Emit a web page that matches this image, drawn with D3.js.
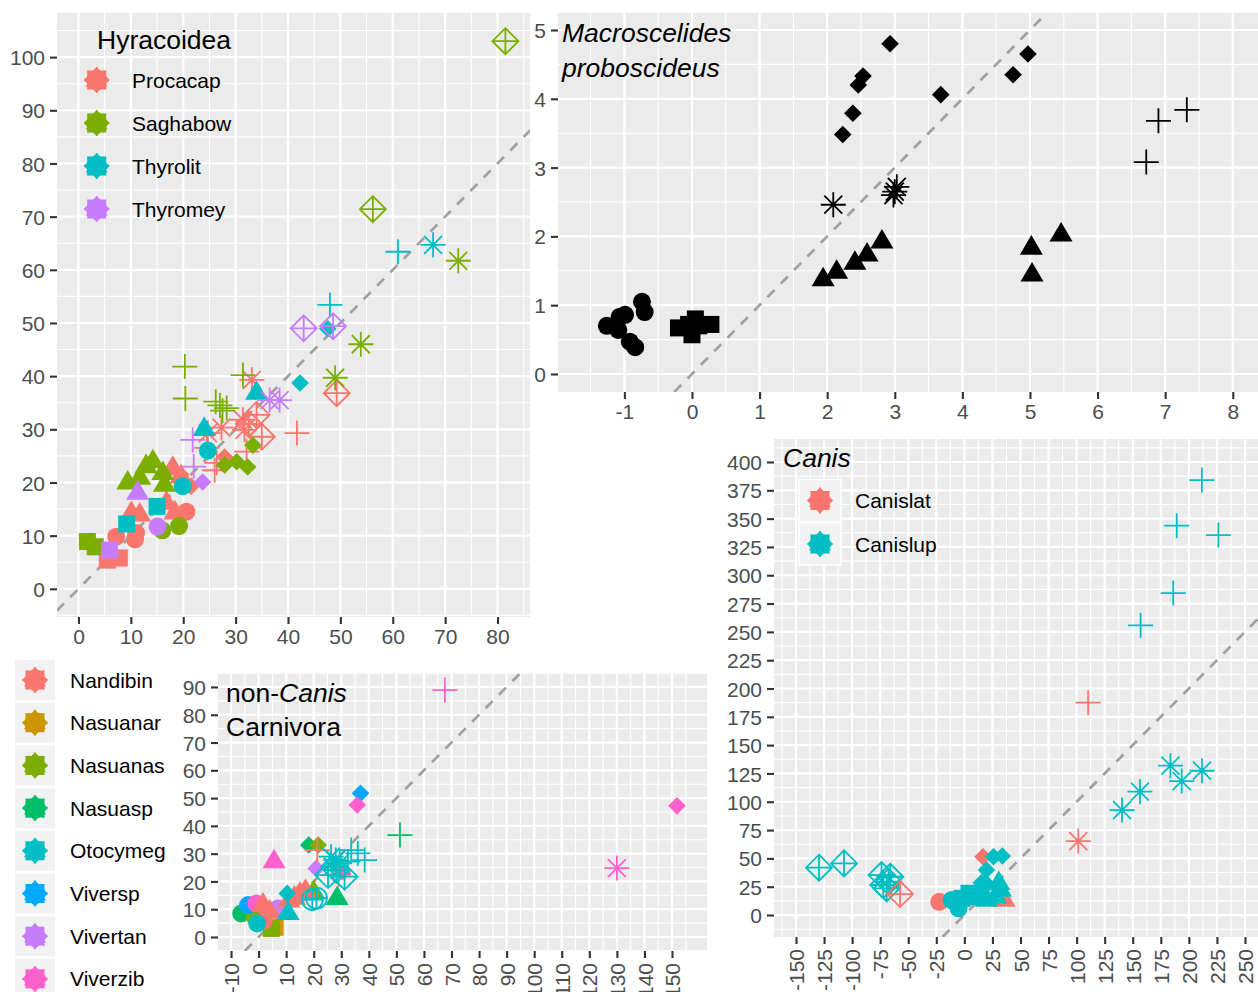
<!DOCTYPE html>
<html><head><meta charset="utf-8">
<script src="https://cdn.jsdelivr.net/npm/d3@7"></script>
<style>
body{margin:0;background:#fff}
svg{display:block;font-family:"Liberation Sans",Arial,Helvetica,sans-serif}
</style>
</head><body>
<svg id="chart" width="1258" height="992"></svg>
<script>
// ---------------- DATA ----------------
// Hyracoidea panel
const hyraxSpecies = ["Procacap","Saghabow","Thyrolit","Thyromey"];
const hyraxColors  = ["#F8766D","#7CAE00","#00BFC4","#C77CFF"];
const hyraxXTicks = [0,10,20,30,40,50,60,70,80];
const hyraxYTicks = [0,10,20,30,40,50,60,70,80,90,100];
// [species, shape, x, y]
const hyraxPoints = [
  ["Procacap","square",5.5,5.4],["Procacap","square",7.8,5.8],
  ["Procacap","circle",7.2,9.8],["Procacap","circle",10.8,9.3],["Procacap","circle",11,10.5],["Procacap","circle",20.6,14.5],
  ["Procacap","triangle",10.1,14.2],["Procacap","triangle",11.7,13.9],["Procacap","triangle",16.8,16.1],["Procacap","triangle",18.4,14.3],["Procacap","triangle",18,22.7],["Procacap","triangle",19.6,21.1],
  ["Procacap","diamond",21.5,19.3],["Procacap","diamond",19.5,21.5],["Procacap","diamond",27.9,24.8],
  ["Procacap","plus",41.7,29.3],["Procacap","plus",26.4,23.7],["Procacap","plus",32.1,25.8],["Procacap","plus",26,22.3],["Procacap","plus",24.5,26.5],
  ["Procacap","asterisk",33.1,39.3],["Procacap","asterisk",31.4,31.8],["Procacap","asterisk",27.3,30.3],["Procacap","asterisk",24.7,29.3],["Procacap","asterisk",31.7,29.9],
  ["Procacap","diamondplus",34,32.7],["Procacap","diamondplus",35,28.6],["Procacap","diamondplus",49.3,36.8],["Procacap","diamondplus",32.5,31],
  ["Saghabow","square",1.7,8.9],["Saghabow","square",3.2,7.9],
  ["Saghabow","circle",16,11],["Saghabow","circle",19.2,11.8],
  ["Saghabow","triangle",9.4,19.9],["Saghabow","triangle",11.7,20.8],["Saghabow","triangle",14.2,23.9],["Saghabow","triangle",12.9,23],["Saghabow","triangle",16.1,21.7],["Saghabow","triangle",16.4,19.5],
  ["Saghabow","diamond",27.9,23.3],["Saghabow","diamond",30.2,23.9],["Saghabow","diamond",32.3,22.9],["Saghabow","diamond",33.3,27],
  ["Saghabow","plus",20.3,41.8],["Saghabow","plus",20.4,35.8],["Saghabow","plus",26.2,35.2],["Saghabow","plus",27,34.5],["Saghabow","plus",27.5,33.5],["Saghabow","plus",28.3,34],["Saghabow","plus",31.4,40.2],
  ["Saghabow","asterisk",72.5,61.7],["Saghabow","asterisk",53.9,46],["Saghabow","asterisk",49,39.7],
  ["Saghabow","diamondplus",81.5,103],["Saghabow","diamondplus",56.2,71.4],
  ["Thyrolit","square",15,15.5],["Thyrolit","square",9.2,12.2],
  ["Thyrolit","circle",24.7,26],["Thyrolit","circle",19.9,19.3],
  ["Thyrolit","triangle",24,30],["Thyrolit","triangle",34,36.8],
  ["Thyrolit","diamond",42.3,38.7],["Thyrolit","diamond",47.6,48.9],
  ["Thyrolit","plus",61,63.4],["Thyrolit","plus",48,53.4],
  ["Thyrolit","asterisk",67.7,64.7],
  ["Thyromey","square",5.9,7.3],
  ["Thyromey","circle",15.1,11.7],
  ["Thyromey","triangle",11.3,18],
  ["Thyromey","diamond",23.7,20.1],
  ["Thyromey","plus",21.8,28],["Thyromey","plus",22,23],
  ["Thyromey","asterisk",36.5,35.5],["Thyromey","asterisk",38.4,35.5],
  ["Thyromey","diamondplus",43,49],["Thyromey","diamondplus",48.6,49.4]
];

// Macroscelides proboscideus panel
const macroXTicks = [-1,0,1,2,3,4,5,6,7,8];
const macroYTicks = [0,1,2,3,4,5];
const macroPoints = [
  ["circle",-1.26,0.70],["circle",-1.09,0.64],["circle",-1.07,0.83],["circle",-0.99,0.86],["circle",-0.92,0.47],["circle",-0.84,0.39],["circle",-0.74,1.05],["circle",-0.70,0.90],
  ["square",-0.20,0.67],["square",-0.05,0.72],["square",0.05,0.80],["square",0.00,0.57],["square",0.28,0.72],["square",0.10,0.70],
  ["triangle",1.94,1.37],["triangle",2.14,1.48],["triangle",2.41,1.61],["triangle",2.59,1.73],["triangle",2.81,1.92],["triangle",5.02,1.83],["triangle",5.03,1.44],["triangle",5.46,2.02],
  ["diamond",2.23,3.48],["diamond",2.38,3.79],["diamond",2.46,4.20],["diamond",2.53,4.33],["diamond",2.93,4.80],["diamond",3.68,4.06],["diamond",4.75,4.35],["diamond",4.97,4.65],
  ["asterisk",2.09,2.46],["asterisk",3.00,2.65],["asterisk",3.03,2.72],["asterisk",2.98,2.60],
  ["plus",6.72,3.08],["plus",6.90,3.68],["plus",7.32,3.84]
];

// non-Canis Carnivora panel
const carnSpecies = ["Nandibin","Nasuanar","Nasuanas","Nasuasp","Otocymeg","Viversp","Vivertan","Viverzib"];
const carnColors  = ["#F8766D","#CD9600","#7CAE00","#00BE67","#00BFC4","#00A9FF","#C77CFF","#FF61CC"];
const carnXTicks = [-10,0,10,20,30,40,50,60,70,80,90,100,110,120,130,140,150];
const carnYTicks = [0,10,20,30,40,50,60,70,80,90];
const carnPoints = [
  ["Nasuasp","circle",-6.3,8.5],["Nasuasp","diamond",18.2,33.1],["Nasuasp","triangle",28.5,13.9],["Nasuasp","plus",51.3,36.7],
  ["Nasuanar","square",6,3.5],["Nasuanar","circle",1,7],
  ["Nasuanas","square",4.6,3.1],["Nasuanas","diamond",21.6,33.1],["Nasuanas","triangle",20,16],["Nasuanas","circle",-1.5,7.5],
  ["Viversp","circle",-3.8,11.5],["Viversp","diamond",37,51.7],
  ["Viverzib","circle",-0.8,12.1],["Viverzib","triangle",5.6,27.1],["Viverzib","diamond",35.8,47.5],["Viverzib","diamond",151.8,47.2],["Viverzib","plus",67.6,88.9],["Viverzib","asterisk",130,24.8],["Viverzib","diamond",30.5,23.5],
  ["Vivertan","circle",7,10.3],["Vivertan","diamond",20.9,24.7],
  ["Nandibin","circle",2,6],["Nandibin","triangle",1.6,11.5],["Nandibin","triangle",4,9],["Nandibin","triangle",11,13],["Nandibin","triangle",13,14],["Nandibin","triangle",15,15.5],["Nandibin","triangle",17,16.5],["Nandibin","plus",21.3,31.3],["Nandibin","plus",29,22.5],
  ["Otocymeg","circle",-0.5,4.9],["Otocymeg","triangle",10.7,8.5],["Otocymeg","diamond",10.4,15.7],
  ["Otocymeg","circleplus",19.5,13.5],["Otocymeg","circleplus",21,14],
  ["Otocymeg","asterisk",26.3,28.9],["Otocymeg","asterisk",28,27.7],["Otocymeg","asterisk",29.4,26.5],["Otocymeg","asterisk",27,25.3],
  ["Otocymeg","plus",33.6,31.3],["Otocymeg","plus",36,30.1],["Otocymeg","plus",38.5,27.7],["Otocymeg","plus",32.4,27.1],
  ["Otocymeg","diamondplus",25.2,22.3],["Otocymeg","diamondplus",31.2,21.7],["Otocymeg","diamondplus",28.2,24.1]
];

// Canis panel
const canisSpecies = ["Canislat","Canislup"];
const canisColors  = ["#F8766D","#00BFC4"];
const canisXTicks = [-150,-125,-100,-75,-50,-25,0,25,50,75,100,125,150,175,200,225,250];
const canisYTicks = [0,25,50,75,100,125,150,175,200,225,250,275,300,325,350,375,400];
const canisPoints = [
  ["Canislup","plus",211.6,384],["Canislup","plus",189.2,343.8],["Canislup","plus",226.3,335.5],["Canislup","plus",186.1,284.3],["Canislup","plus",157,255.8],
  ["Canislup","asterisk",140.5,92.7],["Canislup","asterisk",156.4,108.9],["Canislup","asterisk",183.6,131.9],["Canislup","asterisk",193.6,118.3],["Canislup","asterisk",211.7,127.4],
  ["Canislup","diamondplus",-129.5,41.8],["Canislup","diamondplus",-107.2,45.6],["Canislup","diamondplus",-73.8,35.3],["Canislup","diamondplus",-67.6,29.4],["Canislup","diamondplus",-69.2,23.5],["Canislup","diamondplus",-72.3,26.5],["Canislup","diamondplus",-66,33.8],
  ["Canislat","diamond",16.6,51.5],
  ["Canislup","diamond",19.7,39.7],["Canislup","diamond",19.1,28.5],["Canislup","diamond",15.1,28.5],["Canislup","diamond",26,51.5],["Canislup","diamond",33.8,52.1],
  ["Canislat","triangle",35.4,13.2],
  ["Canislup","triangle",30.7,28],["Canislup","triangle",32.2,22],["Canislup","triangle",19.7,13.2],["Canislup","triangle",27.6,16.2],
  ["Canislup","square",4.1,19.2],["Canislup","square",10.4,16.2],["Canislup","square",-2,14.7],
  ["Canislat","circle",-22.4,11.7],
  ["Canislup","circle",-11.4,13.2],["Canislup","circle",-5.2,5.9],["Canislup","circle",-8.3,11.7],
  ["Canislat","plus",110.3,187.5],["Canislat","asterisk",101.5,65.3],["Canislat","diamondplus",-57.3,18.5]
];

// ---------------- DRAWING ----------------
const svg = d3.select("#chart");
const TICK_COL = "#333333", LAB_COL = "#4D4D4D";

function drawShape(g, shape, color) {
  const sw = 1.8;
  switch (shape) {
    case "circle": g.append("circle").attr("r", 9).attr("fill", color); break;
    case "square": g.append("rect").attr("x",-8.5).attr("y",-8.5).attr("width",17).attr("height",17).attr("fill", color); break;
    case "triangle": g.append("path").attr("d","M0,-13L11.5,6.6L-11.5,6.6Z").attr("fill", color); break;
    case "diamond": g.append("path").attr("d","M0,-8.8L8.8,0L0,8.8L-8.8,0Z").attr("fill", color); break;
    case "plus": g.append("path").attr("d","M-12.5,0H12.5M0,-12.5V12.5").attr("stroke", color).attr("stroke-width", sw).attr("fill","none"); break;
    case "asterisk": g.append("path").attr("d","M-12.5,0H12.5M0,-12.5V12.5M-9,-9L9,9M-9,9L9,-9").attr("stroke", color).attr("stroke-width", sw).attr("fill","none"); break;
    case "diamondplus": g.append("path").attr("d","M0,-13L13,0L0,13L-13,0ZM-13,0H13M0,-13V13").attr("stroke", color).attr("stroke-width", sw).attr("fill","none"); break;
    case "circleplus":
      g.append("circle").attr("r",10.5).attr("stroke", color).attr("stroke-width", sw).attr("fill","none");
      g.append("path").attr("d","M-10.5,0H10.5M0,-10.5V10.5").attr("stroke", color).attr("stroke-width", sw).attr("fill","none"); break;
  }
}

// legend key: all plotting symbols overlaid (ggplot style), giving a star-like glyph
function drawKeyGlyph(g, color) {
  g.append("path").attr("d","M0,-13L13,0L0,13L-13,0Z").attr("fill", color);
  g.append("rect").attr("x",-9.5).attr("y",-9.5).attr("width",19).attr("height",19).attr("fill", color);
  g.append("circle").attr("r",10).attr("fill", color);
  g.append("path").attr("d","M0,-12L11,6.5L-11,6.5Z").attr("fill", color);
  g.append("path").attr("d","M-12.5,0H12.5M0,-13V13M-9,-9L9,9M-9,9L9,-9").attr("stroke", color).attr("stroke-width", 1.6);
}

function minorBreaks(ticks, domain) {
  const step = ticks[1] - ticks[0];
  const out = [];
  const lo = Math.min(domain[0], domain[1]), hi = Math.max(domain[0], domain[1]);
  for (let v = ticks[0] - step / 2; v <= ticks[ticks.length - 1] + step / 2 + 1e-9; v += step) {
    if (v >= lo && v <= hi) out.push(v);
  }
  return out;
}

let clipId = 0;
function drawPanel(cfg) {
  const x = d3.scaleLinear().domain(cfg.xDomain).range([cfg.left, cfg.right]);
  const y = d3.scaleLinear().domain(cfg.yDomain).range([cfg.bottom, cfg.top]);
  const g = svg.append("g");
  g.append("rect").attr("x", cfg.left).attr("y", cfg.top)
    .attr("width", cfg.right - cfg.left).attr("height", cfg.bottom - cfg.top).attr("fill", "#EBEBEB");
  const grid = g.append("g");
  minorBreaks(cfg.xTicks, cfg.xDomain).forEach(v => grid.append("line")
    .attr("x1", x(v)).attr("x2", x(v)).attr("y1", cfg.top).attr("y2", cfg.bottom)
    .attr("stroke", "#fff").attr("stroke-width", 1.1));
  minorBreaks(cfg.yTicks, cfg.yDomain).forEach(v => grid.append("line")
    .attr("y1", y(v)).attr("y2", y(v)).attr("x1", cfg.left).attr("x2", cfg.right)
    .attr("stroke", "#fff").attr("stroke-width", 1.1));
  cfg.xTicks.forEach(v => grid.append("line")
    .attr("x1", x(v)).attr("x2", x(v)).attr("y1", cfg.top).attr("y2", cfg.bottom)
    .attr("stroke", "#fff").attr("stroke-width", 2.2));
  cfg.yTicks.forEach(v => grid.append("line")
    .attr("y1", y(v)).attr("y2", y(v)).attr("x1", cfg.left).attr("x2", cfg.right)
    .attr("stroke", "#fff").attr("stroke-width", 2.2));

  const id = "clip" + (clipId++);
  svg.append("defs").append("clipPath").attr("id", id).append("rect")
    .attr("x", cfg.left).attr("y", cfg.top).attr("width", cfg.right - cfg.left).attr("height", cfg.bottom - cfg.top);
  const plot = g.append("g").attr("clip-path", `url(#${id})`);

  // identity line y = x
  const lo = Math.max(cfg.xDomain[0], cfg.yDomain[0]), hi = Math.min(cfg.xDomain[1], cfg.yDomain[1]);
  plot.append("line").attr("x1", x(lo)).attr("y1", y(lo)).attr("x2", x(hi)).attr("y2", y(hi))
    .attr("stroke", "#A0A0A0").attr("stroke-width", 2.7).attr("stroke-dasharray", "10,9");

  cfg.points.forEach(p => {
    const pg = plot.append("g").attr("transform", `translate(${x(p.x)},${y(p.y)})`);
    drawShape(pg, p.shape, p.color);
  });

  // axes
  const fmt = d => String(d);
  const ax = g.append("g").attr("transform", `translate(0,${cfg.bottom})`)
    .call(d3.axisBottom(x).tickValues(cfg.xTicks).tickSize(7).tickPadding(5).tickFormat(fmt));
  const ay = g.append("g").attr("transform", `translate(${cfg.left},0)`)
    .call(d3.axisLeft(y).tickValues(cfg.yTicks).tickSize(7).tickPadding(5).tickFormat(fmt));
  [ax, ay].forEach(a => {
    a.select(".domain").remove();
    a.selectAll(".tick line").attr("stroke", TICK_COL).attr("stroke-width", 2.1);
    a.selectAll(".tick text").attr("fill", LAB_COL).style("font-size", "21px")
      .style("font-family", '"Liberation Sans",Arial,sans-serif');
  });
  ay.selectAll(".tick text").attr("dy", "0.36em");
  if (cfg.rotateX) {
    ax.selectAll(".tick text").attr("transform", "rotate(-90)")
      .attr("x", -12).attr("y", 0).attr("dy", "0.36em").attr("text-anchor", "end");
  } else {
    ax.selectAll(".tick text").attr("dy", "0.72em").attr("y", 12);
  }
  return {x, y};
}

function toPts(arr, speciesList, colors) {
  return arr.map(d => ({shape: d[1], x: d[2], y: d[3], color: colors[speciesList.indexOf(d[0])]}));
}

// Panel A: Hyracoidea
drawPanel({left: 57, right: 530, top: 13, bottom: 617,
  xDomain: [-4.1, 86.2], yDomain: [-5.3, 108.3],
  xTicks: hyraxXTicks, yTicks: hyraxYTicks,
  points: toPts(hyraxPoints, hyraxSpecies, hyraxColors)});

// Panel B: Macroscelides
drawPanel({left: 558, right: 1258, top: 13, bottom: 392,
  xDomain: [-1.982, 8.373], yDomain: [-0.262, 5.247],
  xTicks: macroXTicks, yTicks: macroYTicks,
  points: macroPoints.map(d => ({shape: d[0], x: d[1], y: d[2], color: "#000"}))});

// Panel C: non-Canis Carnivora
drawPanel({left: 218, right: 707, top: 673, bottom: 951,
  xDomain: [-14.73, 162.7], yDomain: [-5.04, 95.03],
  xTicks: carnXTicks, yTicks: carnYTicks, rotateX: true,
  points: toPts(carnPoints, carnSpecies, carnColors)});

// Panel D: Canis
drawPanel({left: 774, right: 1258, top: 439, bottom: 937,
  xDomain: [-169.6, 261.6], yDomain: [-19.4, 420.3],
  xTicks: canisXTicks, yTicks: canisYTicks, rotateX: true,
  points: toPts(canisPoints, canisSpecies, canisColors)});

// ---------------- LEGENDS / TITLES ----------------
const txt = (x, y, s, size, italic) => svg.append("text").attr("x", x).attr("y", y)
  .style("font-size", size + "px").style("font-style", italic ? "italic" : "normal").attr("fill", "#000").text(s);

// Hyracoidea legend
txt(97, 49, "Hyracoidea", 26.5, false);
hyraxSpecies.forEach((s, i) => {
  const cy = 80 + i * 43;
  drawKeyGlyph(svg.append("g").attr("transform", `translate(96.7,${cy})`), hyraxColors[i]);
  svg.append("text").attr("x", 132).attr("y", cy).attr("dy", "0.36em").style("font-size", "21px").text(s);
});

// Macroscelides title
txt(562, 42, "Macroscelides", 26.5, true);
txt(562, 77, "proboscideus", 26.5, true);

// non-Canis Carnivora title
const t1 = svg.append("text").attr("x", 226).attr("y", 702).style("font-size", "26.5px");
t1.append("tspan").text("non-");
t1.append("tspan").style("font-style", "italic").text("Canis");
txt(226, 736, "Carnivora", 26.5, false);

// Carnivora legend (outside)
carnSpecies.forEach((s, i) => {
  const cy = 680 + i * 42.7;
  svg.append("rect").attr("x", 15).attr("y", cy - 20).attr("width", 40).attr("height", 40).attr("fill", "#F2F2F2");
  drawKeyGlyph(svg.append("g").attr("transform", `translate(35,${cy})`), carnColors[i]);
  svg.append("text").attr("x", 70).attr("y", cy).attr("dy", "0.36em").style("font-size", "21px").text(s);
});

// Canis legend
txt(783, 467, "Canis", 26.5, true);
canisSpecies.forEach((s, i) => {
  const cy = 500.5 + i * 43.5;
  svg.append("rect").attr("x", 799).attr("y", cy - 21).attr("width", 42).attr("height", 42)
    .attr("fill", "#F2F2F2").attr("stroke", "#fff").attr("stroke-width", 1.5);
  drawKeyGlyph(svg.append("g").attr("transform", `translate(820,${cy})`), canisColors[i]);
  svg.append("text").attr("x", 855).attr("y", cy).attr("dy", "0.36em").style("font-size", "21px").text(s);
});
</script>
</body></html>
